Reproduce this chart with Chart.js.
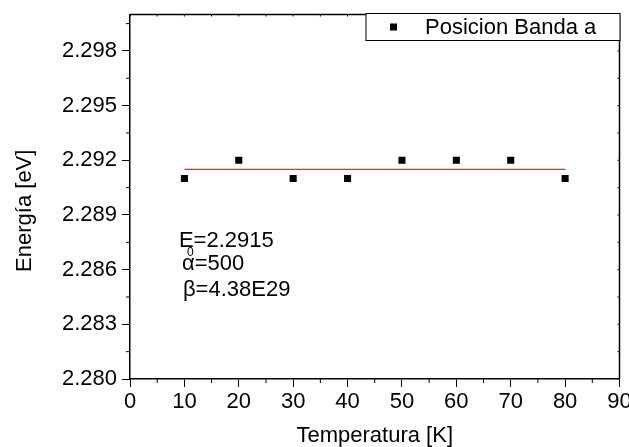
<!DOCTYPE html>
<html>
<head>
<meta charset="utf-8">
<script src="https://cdn.jsdelivr.net/npm/chart.js@4"></script>
<style>
  html, body { margin: 0; padding: 0; background: #fff; }
  #wrap { width: 629px; height: 447px; position: relative; }
</style>
</head>
<body>
<div id="wrap"><canvas id="chart"></canvas></div>
<script>
// data
const temps = [10, 20, 30, 40, 50, 60, 70, 80];
const energies = [2.291, 2.292, 2.291, 2.291, 2.292, 2.292, 2.292, 2.291];
const fitX = [10, 80];
const fitY = [2.2915, 2.2915];

const xTicks = [0, 10, 20, 30, 40, 50, 60, 70, 80, 90];
const xMinor = [5, 15, 25, 35, 45, 55, 65, 75, 85];
const yTicks = [2.280, 2.283, 2.286, 2.289, 2.292, 2.295, 2.298];
const yMinor = [2.2815, 2.2845, 2.2875, 2.2905, 2.2935, 2.2965, 2.2995];

const seriesLabel = 'Posicion Banda a';
const xTitle = 'Temperatura [K]';
const yTitle = 'Energía [eV]';

const FONT = '"Liberation Sans", Arial, sans-serif';
const FS = 22;

// stop chart.js from shrinking the plot to fit edge labels
function noPad(s) {
  s.paddingLeft = 0;
  s.paddingRight = 0;
  s.paddingTop = 0;
  s.paddingBottom = 0;
}

// extra drawing: minor ticks, top/right frame, titles, legend, fit text
const decorPlugin = {
  id: 'decor',
  afterDraw(chart) {
    const ctx = chart.ctx;
    const area = chart.chartArea;
    const xs = chart.scales.x;
    const ys = chart.scales.y;
    ctx.save();
    ctx.strokeStyle = '#000';
    ctx.lineWidth = 1.5;

    // top + right frame
    ctx.beginPath();
    ctx.moveTo(area.left, area.top);
    ctx.lineTo(area.right, area.top);
    ctx.lineTo(area.right, area.bottom);
    ctx.stroke();

    ctx.lineWidth = 1;
    ctx.beginPath();
    xMinor.forEach(v => {
      const px = xs.getPixelForValue(v);
      ctx.moveTo(px, area.bottom);
      ctx.lineTo(px, area.bottom + 4);
    });
    yMinor.forEach(v => {
      const py = ys.getPixelForValue(v);
      ctx.moveTo(area.left, py);
      ctx.lineTo(area.left - 4, py);
    });
    // small inward ticks on top and right
    xTicks.concat(xMinor).forEach(v => {
      const px = xs.getPixelForValue(v);
      ctx.moveTo(px, area.top);
      ctx.lineTo(px, area.top + 2);
    });
    yTicks.concat(yMinor).forEach(v => {
      const py = ys.getPixelForValue(v);
      ctx.moveTo(area.right, py);
      ctx.lineTo(area.right - 2, py);
    });
    ctx.stroke();

    // axis titles
    ctx.fillStyle = '#000';
    ctx.font = FS + 'px ' + FONT;
    ctx.textAlign = 'center';
    ctx.textBaseline = 'alphabetic';
    ctx.fillText(xTitle, (area.left + area.right) / 2, area.bottom + 63);
    ctx.save();
    ctx.translate(area.left - 99, (area.top + area.bottom) / 2 + 14);
    ctx.rotate(-Math.PI / 2);
    ctx.fillText(yTitle, 0, 0);
    ctx.restore();

    // fit parameters
    ctx.textAlign = 'left';
    const ax = xs.getPixelForValue(9);
    const ay = ys.getPixelForValue(2.28725);
    ctx.font = FS + 'px ' + FONT;
    ctx.fillText('E', ax, ay);
    const ew = ctx.measureText('E').width;
    ctx.fillText('=2.2915', ax + ew, ay);
    ctx.font = '12px ' + FONT;
    ctx.fillText('0', ax + 8, ay + 9);
    ctx.font = FS + 'px ' + FONT;
    ctx.fillText('\u03b1=500', ax + 3, ay + 23);
    ctx.fillText('\u03b2=4.38E29', ax + 4, ay + 49);

    // legend box
    const lw = 254, lh = 27;
    const lx = area.right - lw + 0.5;
    const ly = area.top - 1;
    ctx.fillStyle = '#fff';
    ctx.fillRect(lx, ly, lw, lh);
    ctx.lineWidth = 1;
    ctx.strokeStyle = '#000';
    ctx.strokeRect(lx, ly, lw, lh);
    ctx.fillStyle = '#000';
    ctx.fillRect(lx + 24, ly + lh / 2 - 3.5, 7, 7);
    ctx.textBaseline = 'middle';
    ctx.fillText(chart.data.datasets[0].label, lx + 59, ly + lh / 2 + 1);
    ctx.restore();
  }
};

new Chart(document.getElementById('chart'), {
  type: 'scatter',
  data: {
    datasets: [
      {
        label: seriesLabel,
        data: temps.map((t, i) => ({ x: t, y: energies[i] })),
        pointStyle: 'rect',
        pointRadius: 5,
        pointHoverRadius: 5,
        backgroundColor: '#000',
        borderWidth: 0,
        showLine: false,
        order: 1
      },
      {
        label: 'fit',
        type: 'line',
        data: fitX.map((t, i) => ({ x: t, y: fitY[i] })),
        borderColor: '#ff2020',
        borderWidth: 1.3,
        pointRadius: 0,
        fill: false,
        order: 2
      }
    ]
  },
  options: {
    responsive: true,
    maintainAspectRatio: false,
    animation: false,
    layout: { padding: { top: 14.5, right: 9.5, left: 0, bottom: 0 } },
    plugins: {
      legend: { display: false },
      tooltip: { enabled: false }
    },
    scales: {
      x: {
        type: 'linear',
        min: 0,
        max: 90,
        afterBuildTicks: s => { s.ticks = xTicks.map(v => ({ value: v })); },
        afterFit: s => { s.height = 68; noPad(s); },
        border: { display: true, color: '#000', width: 1.5 },
        grid: { drawOnChartArea: false, drawTicks: true, tickLength: 8, tickColor: '#000', tickWidth: 1 },
        ticks: {
          color: '#000',
          padding: 2,
          maxRotation: 0,
          font: { family: FONT, size: FS },
          callback: v => String(v)
        }
      },
      y: {
        type: 'linear',
        min: 2.280,
        max: 2.300,
        afterBuildTicks: s => { s.ticks = yTicks.map(v => ({ value: v })); },
        afterFit: s => { s.width = 130; noPad(s); },
        border: { display: true, color: '#000', width: 1.5 },
        grid: { drawOnChartArea: false, drawTicks: true, tickLength: 8, tickColor: '#000', tickWidth: 1 },
        ticks: {
          color: '#000',
          padding: 5,
          font: { family: FONT, size: FS },
          callback: v => v.toFixed(3)
        }
      }
    }
  },
  plugins: [decorPlugin]
});
</script>
</body>
</html>
